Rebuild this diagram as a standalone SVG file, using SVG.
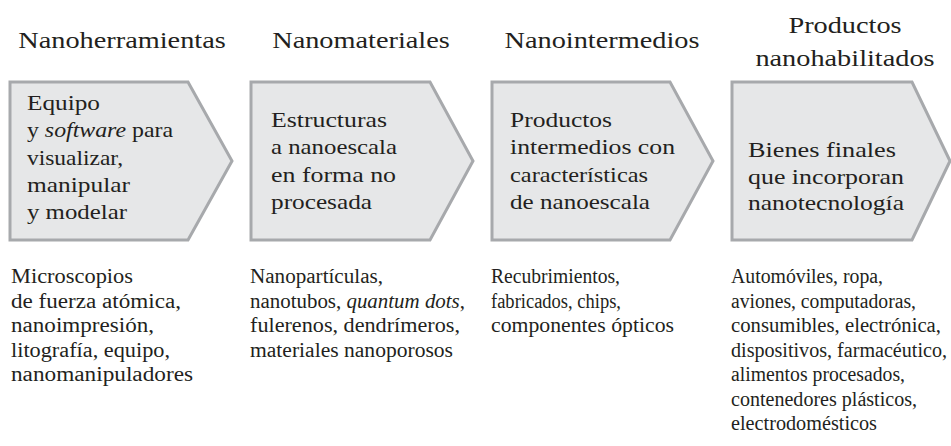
<svg xmlns="http://www.w3.org/2000/svg" width="951" height="446" viewBox="0 0 951 446">
<style>
text{font-family:"Liberation Serif","Times New Roman",serif;fill:#231f20}
.title{font-size:24px;text-anchor:middle}
.box{font-size:22px}
.desc{font-size:20px}
.shape{fill:#e6e7e8;stroke:#a7a9ac;stroke-width:3;stroke-linejoin:miter}
.it{font-style:italic}
</style>
<rect width="951" height="446" fill="#ffffff"/>
<g id="connectors"/>
<g id="nanoherramientas">
<text class="title" transform="translate(122,48) scale(1.18,1)">Nanoherramientas</text>
<path class="shape" d="M10,82 H188 L232,161 L188,240 H10 Z"/>
<g class="box-text">
<text class="box" x="27" y="110" textLength="73" lengthAdjust="spacingAndGlyphs">Equipo</text>
<text class="box" x="27" y="137.3" textLength="146" lengthAdjust="spacingAndGlyphs">y <tspan class="it">software</tspan> para</text>
<text class="box" x="27" y="164.6" textLength="96" lengthAdjust="spacingAndGlyphs">visualizar,</text>
<text class="box" x="27" y="191.9" textLength="103" lengthAdjust="spacingAndGlyphs">manipular</text>
<text class="box" x="27" y="219.2" textLength="100" lengthAdjust="spacingAndGlyphs">y modelar</text>
</g>
<g class="desc-text">
<text class="desc" x="11" y="283" textLength="122" lengthAdjust="spacingAndGlyphs">Microscopios</text>
<text class="desc" x="11" y="307.5" textLength="170" lengthAdjust="spacingAndGlyphs">de fuerza atómica,</text>
<text class="desc" x="11" y="332" textLength="143" lengthAdjust="spacingAndGlyphs">nanoimpresión,</text>
<text class="desc" x="11" y="356.5" textLength="159" lengthAdjust="spacingAndGlyphs">litografía, equipo,</text>
<text class="desc" x="11" y="381" textLength="182" lengthAdjust="spacingAndGlyphs">nanomanipuladores</text>
</g>
</g>
<g id="nanomateriales">
<text class="title" transform="translate(361,48) scale(1.18,1)">Nanomateriales</text>
<path class="shape" d="M251,82 H430 L473,161 L430,240 H251 Z"/>
<g class="box-text">
<text class="box" x="271" y="127" textLength="116" lengthAdjust="spacingAndGlyphs">Estructuras</text>
<text class="box" x="271" y="154.3" textLength="126" lengthAdjust="spacingAndGlyphs">a nanoescala</text>
<text class="box" x="271" y="181.6" textLength="125" lengthAdjust="spacingAndGlyphs">en forma no</text>
<text class="box" x="271" y="208.9" textLength="101" lengthAdjust="spacingAndGlyphs">procesada</text>
</g>
<g class="desc-text">
<text class="desc" x="250" y="283" textLength="133" lengthAdjust="spacingAndGlyphs">Nanopartículas,</text>
<text class="desc" x="250" y="307.5" textLength="215" lengthAdjust="spacingAndGlyphs">nanotubos, <tspan class="it">quantum dots</tspan>,</text>
<text class="desc" x="250" y="332" textLength="210" lengthAdjust="spacingAndGlyphs">fulerenos, dendrímeros,</text>
<text class="desc" x="250" y="356.5" textLength="203" lengthAdjust="spacingAndGlyphs">materiales nanoporosos</text>
</g>
</g>
<g id="nanointermedios">
<text class="title" transform="translate(602,48) scale(1.18,1)">Nanointermedios</text>
<path class="shape" d="M492,82 H670 L713,161 L670,240 H492 Z"/>
<g class="box-text">
<text class="box" x="510" y="127" textLength="102" lengthAdjust="spacingAndGlyphs">Productos</text>
<text class="box" x="510" y="154.3" textLength="165" lengthAdjust="spacingAndGlyphs">intermedios con</text>
<text class="box" x="510" y="181.6" textLength="138" lengthAdjust="spacingAndGlyphs">características</text>
<text class="box" x="510" y="208.9" textLength="140" lengthAdjust="spacingAndGlyphs">de nanoescala</text>
</g>
<g class="desc-text">
<text class="desc" x="491" y="283" textLength="129" lengthAdjust="spacingAndGlyphs">Recubrimientos,</text>
<text class="desc" x="491" y="307.5" textLength="130" lengthAdjust="spacingAndGlyphs">fabricados, chips,</text>
<text class="desc" x="491" y="332" textLength="183" lengthAdjust="spacingAndGlyphs">componentes ópticos</text>
</g>
</g>
<g id="productos-nanohabilitados">
<text class="title" transform="translate(845,33) scale(1.18,1)"><tspan x="0" dy="0">Productos</tspan><tspan x="0" dy="33">nanohabilitados</tspan></text>
<path class="shape" d="M732,82 H912 L950,161 L912,240 H732 Z"/>
<g class="box-text">
<text class="box" x="748" y="157" textLength="148" lengthAdjust="spacingAndGlyphs">Bienes finales</text>
<text class="box" x="748" y="183.5" textLength="156" lengthAdjust="spacingAndGlyphs">que incorporan</text>
<text class="box" x="748" y="210" textLength="156" lengthAdjust="spacingAndGlyphs">nanotecnología</text>
</g>
<g class="desc-text">
<text class="desc" x="731" y="283" textLength="152" lengthAdjust="spacingAndGlyphs">Automóviles, ropa,</text>
<text class="desc" x="731" y="307.5" textLength="185" lengthAdjust="spacingAndGlyphs">aviones, computadoras,</text>
<text class="desc" x="731" y="332" textLength="210" lengthAdjust="spacingAndGlyphs">consumibles, electrónica,</text>
<text class="desc" x="731" y="356.5" textLength="216" lengthAdjust="spacingAndGlyphs">dispositivos, farmacéutico,</text>
<text class="desc" x="731" y="381" textLength="174" lengthAdjust="spacingAndGlyphs">alimentos procesados,</text>
<text class="desc" x="731" y="405.5" textLength="186" lengthAdjust="spacingAndGlyphs">contenedores plásticos,</text>
<text class="desc" x="731" y="430" textLength="146" lengthAdjust="spacingAndGlyphs">electrodomésticos</text>
</g>
</g>
</svg>
